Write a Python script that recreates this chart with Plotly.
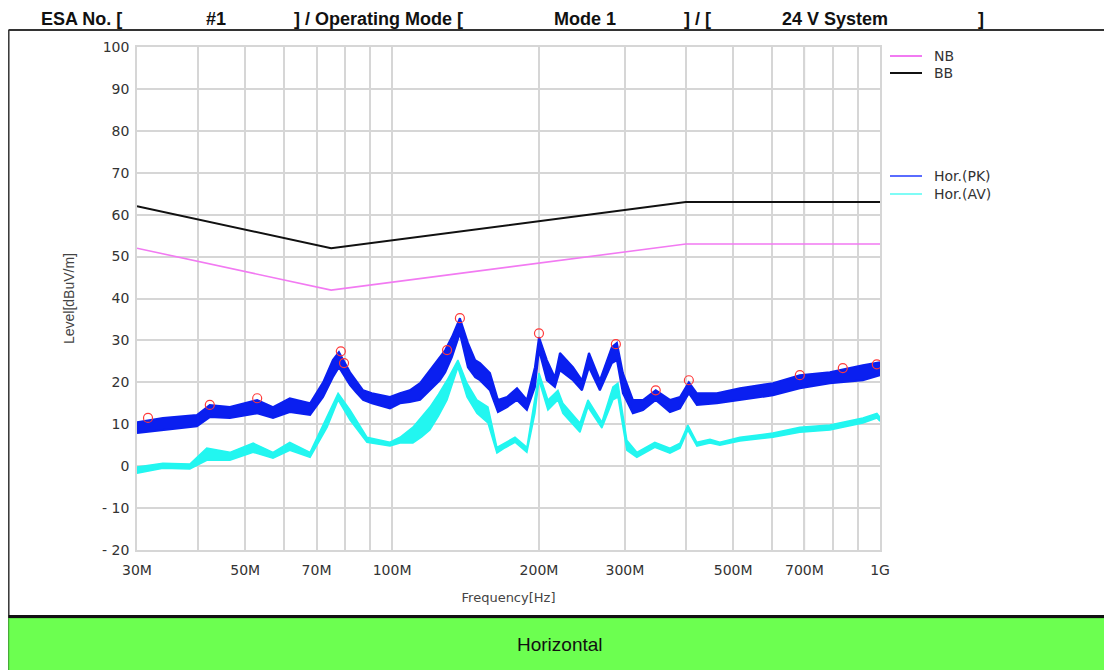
import plotly.graph_objects as go
import math

# ---------------- data ----------------
limit_freq = [30, 75, 400, 1000]          # MHz
limit_bb = [62, 52, 63, 63]               # dBuV/m
limit_nb = [52, 42, 53, 53]

pk_freq = [30.0, 33.9, 39.8, 42.3, 46.5, 52.9, 57.0, 61.7, 67.9, 72.2, 75.6, 77.8, 82.0, 84.3,
           87.2, 90.9, 99.0, 103.8, 108.7, 114.1, 119.5, 125.3, 128.5, 132.6, 137.7, 143.0,
           148.0, 151.4, 158.7, 164.8, 172.0, 180.3,
           188.9, 196.2, 200.0, 207.6, 215.6, 220.8, 234.8, 245.0, 253.2, 266.6, 282.1, 288.9,
           297.2, 311.5, 326.7, 347.0, 371.1, 389.1, 405.7, 421.4, 463.1, 516.3, 603.3, 685.0,
           789.3, 922.3, 1000.0]
pk_hi = [10.5, 11.5, 12.2, 14.6, 14.1, 15.8, 14.1, 16.2, 15.0, 20.0, 25.3, 27.2, 22.4, 20.5,
         18.1, 17.4, 16.5, 17.4, 18.1, 19.8, 22.9, 25.8, 27.7, 30.8, 35.3, 29.4,
         25.3, 24.6, 22.2, 15.8, 16.5, 18.6,
         15.8, 23.6, 30.8, 25.3, 21.2, 27.0, 23.6, 20.5, 27.0, 20.5, 28.4, 29.4,
         22.2, 15.8, 15.8, 18.1, 15.8, 16.5, 20.0, 17.4, 17.4, 18.6, 19.8, 21.7,
         22.4, 24.1, 24.8]
pk_lo = [7.9, 8.6, 9.5, 11.7, 11.5, 12.6, 11.5, 12.9, 12.2, 16.5, 21.2, 23.6, 19.3, 17.7,
         15.8, 15.0, 13.8, 15.0, 15.3, 15.8, 18.1, 20.5, 22.4, 26.0, 31.7, 23.6,
         21.2, 20.5, 18.1, 12.9, 14.1, 15.8,
         13.4, 18.9, 27.7, 20.5, 18.9, 22.9, 20.5, 18.1, 23.6, 18.1, 24.6, 25.3,
         17.4, 12.6, 13.4, 15.8, 12.9, 13.8, 17.4, 14.6, 15.0, 15.8, 16.9, 18.6,
         19.8, 20.5, 21.7]

av_freq = [30.0, 33.9, 38.5, 41.7, 46.5, 51.9, 57.0, 61.7, 67.9, 73.6, 77.5, 82.0, 88.8, 99.0,
           103.8, 110.3, 115.0, 119.5, 124.5, 129.6, 136.4, 142.4, 149.2, 157.2, 164.0, 170.5,
           178.6, 188.9, 196.2,
           200.0, 208.6, 218.7, 223.9, 242.7, 252.0, 269.1, 283.5, 290.3, 302.8, 317.4, 345.5,
           371.1, 389.1, 403.8, 421.4, 448.2, 469.6, 516.3, 603.3, 685.0, 789.3, 922.3, 985.5,
           1000.0]
av_hi = [-0.2, 0.7, 0.5, 4.3, 3.3, 5.5, 3.3, 5.7, 3.3, 11.7, 17.4, 13.4, 6.9, 5.7,
         6.9, 9.3, 11.7, 14.1, 17.2, 20.5, 25.3, 19.8, 15.8, 14.1, 4.5, 5.6,
         6.9, 4.5, 15.8,
         22.2, 15.8, 18.1, 15.0, 10.3, 15.8, 10.5, 18.9, 19.8, 6.2, 3.3, 5.7,
         4.3, 5.5, 9.8, 5.7, 6.4, 5.7, 6.9, 7.9, 9.3, 9.8, 11.5, 12.6,
         11.7]
av_lo = [-1.7, -0.5, -0.7, 1.4, 1.4, 3.3, 1.9, 3.8, 2.1, 9.3, 15.8, 11.0, 5.7, 4.8,
         5.5, 5.5, 7.0, 8.6, 12.0, 15.8, 23.6, 16.5, 12.6, 10.3, 3.1, 4.4,
         5.7, 3.3, 12.6,
         20.5, 13.4, 15.8, 12.6, 8.1, 14.1, 9.1, 15.8, 16.5, 3.8, 2.1, 4.5,
         3.1, 4.3, 8.6, 4.8, 5.5, 5.0, 6.0, 6.9, 8.1, 8.6, 10.3, 11.5,
         10.7]

peak_freq = [31.6, 42.3, 52.9, 78.5, 79.7, 129.6, 137.7, 200.0, 287.5, 347.0, 405.7, 685.0, 839.0, 985.0]
peak_level = [11.5, 14.6, 16.2, 27.4, 24.6, 27.7, 35.3, 31.7, 29.1, 18.1, 20.5, 21.7, 23.4, 24.3]

x_tickvals = [30, 40, 50, 60, 70, 80, 90, 100, 200, 300, 400, 500, 600, 700, 800, 900, 1000]
x_ticktext = ["30M", "", "50M", "", "70M", "", "", "100M", "200M", "300M", "", "500M", "",
              "700M", "", "", "1G"]
y_tickvals = [100, 90, 80, 70, 60, 50, 40, 30, 20, 10, 0, -10, -20]
y_ticktext = ["100", "90", "80", "70", "60", "50", "40", "30", "20", "10", "0", "- 10", "- 20"]
dark_grid_freq = [40, 400, 700, 800]

header_parts = ["ESA No. [", "#1", "] / Operating Mode [", "Mode 1", "] / [", "24 V System", "]"]
header_x_px = [40, 205, 293, 553, 683, 781, 977]

legend_names = ["NB", "BB", "Hor.(PK)", "Hor.(AV)"]
legend_colors = ["#f27af2", "#111111", "#5a6cff", "#7ffcf6"]
legend_y_px = [56, 73, 176, 194]

# ---------------- layout constants (reference pixel coords) ----------------
OFF = 8                      # page body margin of the browser
W, H = 1112, 670
L, R, T, B = 137, 880, 47, 550
PW, PH = R - L, B - T

def px_x(px):
    return (px - L) / PW

def px_y(py):
    return (B - py) / PH

BLUE = "#0a1ff0"
CYAN = "#22f6f0"

fig = go.Figure()

fig.add_trace(go.Scatter(x=limit_freq, y=limit_nb, mode="lines",
                         line=dict(color="#f27af2", width=1.6), showlegend=False, hoverinfo="skip"))
fig.add_trace(go.Scatter(x=limit_freq, y=limit_bb, mode="lines",
                         line=dict(color="#111111", width=2), showlegend=False, hoverinfo="skip"))

fig.add_trace(go.Scatter(x=av_freq, y=av_lo, mode="lines",
                         line=dict(color=CYAN, width=1.5), showlegend=False, hoverinfo="skip"))
fig.add_trace(go.Scatter(x=av_freq, y=av_hi, mode="lines", fill="tonexty", fillcolor=CYAN,
                         line=dict(color=CYAN, width=1.5), showlegend=False, hoverinfo="skip"))
fig.add_trace(go.Scatter(x=pk_freq, y=pk_lo, mode="lines",
                         line=dict(color=BLUE, width=2), showlegend=False, hoverinfo="skip"))
fig.add_trace(go.Scatter(x=pk_freq, y=pk_hi, mode="lines", fill="tonexty", fillcolor=BLUE,
                         line=dict(color=BLUE, width=2), showlegend=False, hoverinfo="skip"))

fig.add_trace(go.Scatter(x=peak_freq, y=peak_level, mode="markers",
                         marker=dict(symbol="circle-open", size=9, color="#ff3a3a",
                                     line=dict(width=1.2, color="#ff3a3a")),
                         showlegend=False, hoverinfo="skip"))

shapes = []
for f in dark_grid_freq:
    shapes.append(dict(type="line", xref="x", yref="paper", x0=f, x1=f, y0=0, y1=1,
                       line=dict(color="#9a9a9a", width=1.3), layer="below"))

shapes.append(dict(type="line", xref="paper", yref="paper", x0=px_x(8.5), x1=px_x(W),
                   y0=px_y(30), y1=px_y(30), line=dict(color="#333333", width=2)))
shapes.append(dict(type="line", xref="paper", yref="paper", x0=px_x(8.8), x1=px_x(8.8),
                   y0=px_y(30), y1=px_y(670), line=dict(color="#333333", width=1.5)))
shapes.append(dict(type="rect", xref="paper", yref="paper", x0=px_x(8.8), x1=px_x(W + 2),
                   y0=px_y(671), y1=px_y(618), fillcolor="#6cff50",
                   line=dict(color="#4cc838", width=1)))
shapes.append(dict(type="line", xref="paper", yref="paper", x0=px_x(8.5), x1=px_x(W),
                   y0=px_y(616.5), y1=px_y(616.5), line=dict(color="#111111", width=3)))

annotations = []
for txt, xp in zip(header_parts, header_x_px):
    annotations.append(dict(text="<b>" + txt + "</b>", xref="paper", yref="paper",
                            x=px_x(xp), y=px_y(OFF + 0.5),
                            xanchor="left", yanchor="top", showarrow=False, borderpad=0,
                            font=dict(family="Liberation Sans", size=18, color="#111111")))
annotations.append(dict(text="Horizontal", xref="paper", yref="paper", x=px_x(560), y=px_y(644),
                        xanchor="center", yanchor="middle", showarrow=False,
                        font=dict(family="Liberation Sans", size=19, color="#111111")))

for name, col, yp in zip(legend_names, legend_colors, legend_y_px):
    shapes.append(dict(type="line", xref="paper", yref="paper", x0=px_x(890), x1=px_x(922),
                       y0=px_y(yp), y1=px_y(yp), line=dict(color=col, width=2)))
    annotations.append(dict(text=name, xref="paper", yref="paper", x=px_x(932), y=px_y(yp),
                            xanchor="left", yanchor="middle", showarrow=False,
                            font=dict(family="DejaVu Sans", size=14, color="#333333")))

fig.update_layout(
    width=W - OFF, height=H - OFF,
    margin=dict(l=L - OFF, r=W - R, t=T - OFF, b=H - B, pad=0),
    paper_bgcolor="white", plot_bgcolor="white",
    showlegend=False, hovermode=False,
    shapes=shapes, annotations=annotations,
    xaxis=dict(type="log", range=[math.log10(30), math.log10(1000)],
               tickvals=x_tickvals, ticktext=x_ticktext, ticks="",
               showgrid=True, gridcolor="#d6d6d6", gridwidth=1.5,
               showline=True, linecolor="#d6d6d6", linewidth=1.5, mirror=True,
               zeroline=False, ticklabelstandoff=6,
               tickfont=dict(family="DejaVu Sans", size=14, color="#333333"),
               title=dict(text="Frequency[Hz]", standoff=16,
                          font=dict(family="DejaVu Sans", size=13, color="#444444"))),
    yaxis=dict(range=[-20, 100], tickvals=y_tickvals, ticktext=y_ticktext, ticks="",
               showgrid=True, gridcolor="#d6d6d6", gridwidth=1.5,
               showline=True, linecolor="#d6d6d6", linewidth=1.5, mirror=True,
               zeroline=False, ticklabelstandoff=3,
               tickfont=dict(family="DejaVu Sans", size=14, color="#333333"),
               title=dict(text="Level[dBuV/m]", standoff=24,
                          font=dict(family="Liberation Sans", size=14, color="#444444"))),
)

fig.write_html("out.html", config=dict(displayModeBar=False))
